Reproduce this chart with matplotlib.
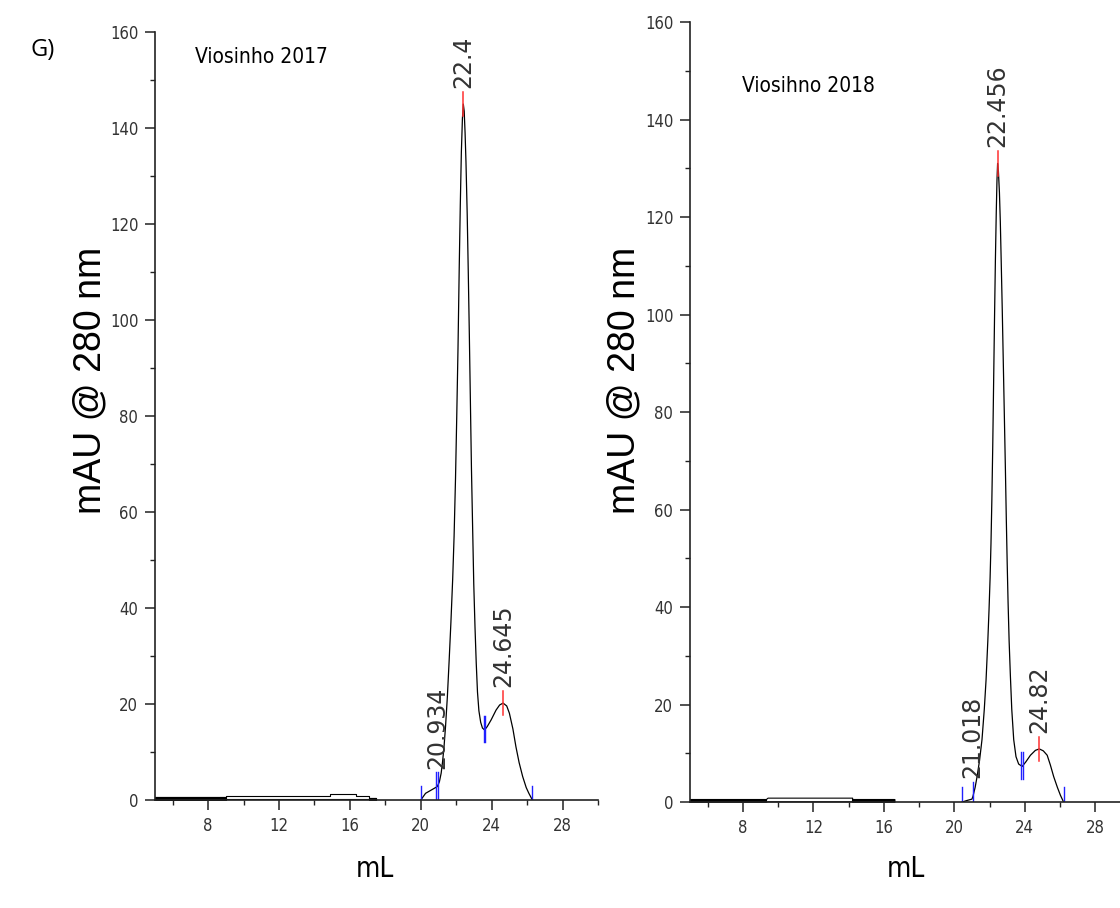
import matplotlib
matplotlib.use("Agg")
import matplotlib.pyplot as plt
from matplotlib.ticker import MultipleLocator, FixedLocator
from matplotlib.font_manager import FontProperties

# -----------------------
# DATA
# -----------------------
# Viosinho 2017 - main chromatogram trace
x_2017 = [20.0, 20.27, 20.6, 20.93, 21.05, 21.15, 21.23, 21.31, 21.4, 21.5,
          21.6, 21.7, 21.8, 21.88, 21.96, 22.03, 22.1, 22.17, 22.23, 22.29,
          22.35, 22.4, 22.45, 22.5, 22.55, 22.62, 22.68, 22.74, 22.8, 22.86,
          22.93, 22.99, 23.06, 23.13, 23.2, 23.28, 23.38, 23.48, 23.6, 23.75,
          23.97, 24.25, 24.45, 24.645, 24.85, 25.0, 25.2, 25.37, 25.55, 25.75,
          25.95, 26.1, 26.3]
y_2017 = [0, 1.4, 2.1, 2.8, 3.8, 5.6, 8.0, 11.0, 15.5, 21.5,
          29, 37, 46, 55, 67, 80, 94, 111, 124, 135,
          142, 145, 143.5, 139, 133, 122, 110, 97, 83, 69,
          56, 45, 36, 28.5, 22.5, 18.6, 16.2, 15.0, 14.6, 15.3,
          16.7, 18.75, 19.8, 20.2, 19.6, 18.1, 14.8, 11.1, 7.8, 4.9,
          2.6, 1.4, 0]
# noisy baseline envelope before the peaks
base_x_2017 = [5.0, 9.0, 9.0, 14.85, 14.85, 16.35, 16.35, 17.1, 17.1, 17.5]
base_hi_2017 = [0.6, 0.6, 0.85, 0.85, 1.3, 1.3, 0.85, 0.85, 0.5, 0.5]
base_lo_2017 = [0.05, 0.05, 0.2, 0.2, 0.2, 0.2, 0.2, 0.2, 0.1, 0.1]
base_solid_2017 = [True, True, False, False, False, False, False, False, True, True]
# peak apex marks and integration boundaries
peak_x_2017 = [22.4, 24.645]
peak_y_2017 = [145, 20.2]
peak_lbl_2017 = ["22.4", "24.645"]
bound_x_2017 = [20.0, 20.934, 23.6, 26.3]
bound_y_2017 = [0, 2.8, 14.6, 0]
bound_dbl_2017 = [False, True, True, False]
extra_lbl_x_2017 = [20.934]
extra_lbl_y_2017 = [2.8]
extra_lbl_2017 = ["20.934"]

# Viosihno 2018
x_2018 = [20.44, 20.7, 21.0, 21.06, 21.18, 21.29, 21.43, 21.57, 21.7, 21.8,
          21.9, 21.97, 22.03, 22.08, 22.13, 22.18, 22.23, 22.28, 22.33, 22.38,
          22.42, 22.456, 22.5, 22.56, 22.61, 22.66, 22.72, 22.78, 22.84, 22.9,
          22.95, 23.0, 23.05, 23.11, 23.18, 23.26, 23.37, 23.5, 23.65, 23.85,
          24.05, 24.32, 24.6, 24.82, 25.05, 25.27, 25.45, 25.64, 25.85, 26.02,
          26.2]
y_2018 = [0, 0.3, 0.6, 1.2, 3.0, 5.2, 8.5, 12.8, 19, 25,
          33, 39.5, 46, 53, 62, 73, 86, 99, 111, 121,
          127.5, 131, 129.5, 125, 119, 111, 101, 90, 79, 68,
          58, 49, 41, 33, 26, 19, 12.8, 9.3, 7.8, 7.3,
          8.2, 9.6, 10.6, 10.9, 10.5, 9.6, 7.6, 5.2, 3.0, 1.4,
          0]
base_x_2018 = [5.0, 9.3, 9.4, 14.2, 14.2, 16.6]
base_hi_2018 = [0.6, 0.6, 0.9, 0.9, 0.6, 0.6]
base_lo_2018 = [0.05, 0.05, 0.15, 0.15, 0.05, 0.05]
base_solid_2018 = [True, True, False, False, True, True]
peak_x_2018 = [22.456, 24.82]
peak_y_2018 = [131, 10.9]
peak_lbl_2018 = ["22.456", "24.82"]
bound_x_2018 = [20.44, 21.06, 23.85, 26.2]
bound_y_2018 = [0, 1.2, 7.3, 0]
bound_dbl_2018 = [False, False, True, False]
extra_lbl_x_2018 = [21.018]
extra_lbl_y_2018 = [1.2]
extra_lbl_2018 = ["21.018"]

titles = ["Viosinho 2017", "Viosihno 2018"]

# -----------------------
# STYLE
# -----------------------
LBL_COLOR = "#333333"
TICK_HALF = 2.5


def narrow(size):
    return FontProperties(family="DejaVu Sans", stretch="condensed", size=size)


def draw_panel(ax, x, y, bx, bhi, blo, bsolid, px, py, plbl,
               bdx, bdy, bdbl, ex, ey, elbl, title, title_pos):
    ax.fill_between(bx, blo, bhi, facecolor="white", edgecolor="black", lw=0.8)
    ax.fill_between(bx, blo, bhi, where=bsolid, facecolor="black",
                    edgecolor="black", lw=0.8)
    ax.plot(x, y, color="black", lw=0.9)

    for xx, yy, lab in zip(px, py, plbl):
        ax.plot([xx, xx], [yy - TICK_HALF, yy + TICK_HALF], color="#ff3030", lw=1.1)
        ax.text(xx, yy + TICK_HALF + 0.8, lab, rotation=90, ha="center",
                va="bottom", fontsize=17, color=LBL_COLOR,
                family="DejaVu Sans")
    for xx, yy, dbl in zip(bdx, bdy, bdbl):
        offs = [-0.05, 0.05] if dbl else [0.0]
        for o in offs:
            ax.plot([xx + o, xx + o], [yy - TICK_HALF, yy + TICK_HALF + 0.5],
                    color="#2020ff", lw=1.0)
    for xx, yy, lab in zip(ex, ey, elbl):
        ax.text(xx, yy + TICK_HALF + 1.2, lab, rotation=90, ha="center",
                va="bottom", fontsize=17, color=LBL_COLOR,
                family="DejaVu Sans")

    ax.set_xlim(5, 30)
    ax.set_ylim(0, 160)
    ax.xaxis.set_major_locator(FixedLocator([8, 12, 16, 20, 24, 28]))
    ax.xaxis.set_minor_locator(FixedLocator([6, 10, 14, 18, 22, 26, 30]))
    ax.yaxis.set_major_locator(MultipleLocator(20))
    ax.yaxis.set_minor_locator(MultipleLocator(10))
    for s in ["top", "right"]:
        ax.spines[s].set_visible(False)
    for s in ["left", "bottom"]:
        ax.spines[s].set_linewidth(1.2)
        ax.spines[s].set_color("#222222")
    ax.tick_params(which="major", length=7, width=1.1, color="#222222",
                   labelcolor=LBL_COLOR, pad=5)
    ax.tick_params(which="minor", length=3.5, width=1.0, color="#222222")
    for t in ax.get_xticklabels() + ax.get_yticklabels():
        t.set_fontproperties(narrow(12))

    ax.text(title_pos[0], title_pos[1], title, transform=ax.transAxes,
            fontproperties=narrow(15), color="black", va="center", ha="left")
    ax.set_xlabel("mL", fontproperties=narrow(20), color="black")
    ax.set_ylabel("mAU @ 280 nm", fontsize=27, family="Liberation Sans",
                  color="black")


fig = plt.figure(figsize=(11.2, 9.08), dpi=100)
ax1 = fig.add_axes([0.1384, 0.1189, 0.3955, 0.8458])
ax2 = fig.add_axes([0.6161, 0.1167, 0.3933, 0.859])

draw_panel(ax1, x_2017, y_2017, base_x_2017, base_hi_2017, base_lo_2017,
           base_solid_2017, peak_x_2017, peak_y_2017, peak_lbl_2017,
           bound_x_2017, bound_y_2017, bound_dbl_2017,
           extra_lbl_x_2017, extra_lbl_y_2017, extra_lbl_2017,
           titles[0], (0.09, 0.967))
draw_panel(ax2, x_2018, y_2018, base_x_2018, base_hi_2018, base_lo_2018,
           base_solid_2018, peak_x_2018, peak_y_2018, peak_lbl_2018,
           bound_x_2018, bound_y_2018, bound_dbl_2018,
           extra_lbl_x_2018, extra_lbl_y_2018, extra_lbl_2018,
           titles[1], (0.118, 0.918))

ax1.xaxis.set_label_coords(0.497, -0.072)
ax1.yaxis.set_label_coords(-0.105, 0.547)
ax2.xaxis.set_label_coords(0.489, -0.068)
ax2.yaxis.set_label_coords(-0.108, 0.541)

fig.text(0.027, 0.945, "G)", fontsize=17, family="Open Sans", va="center")

fig.savefig("out.png", dpi=100)
